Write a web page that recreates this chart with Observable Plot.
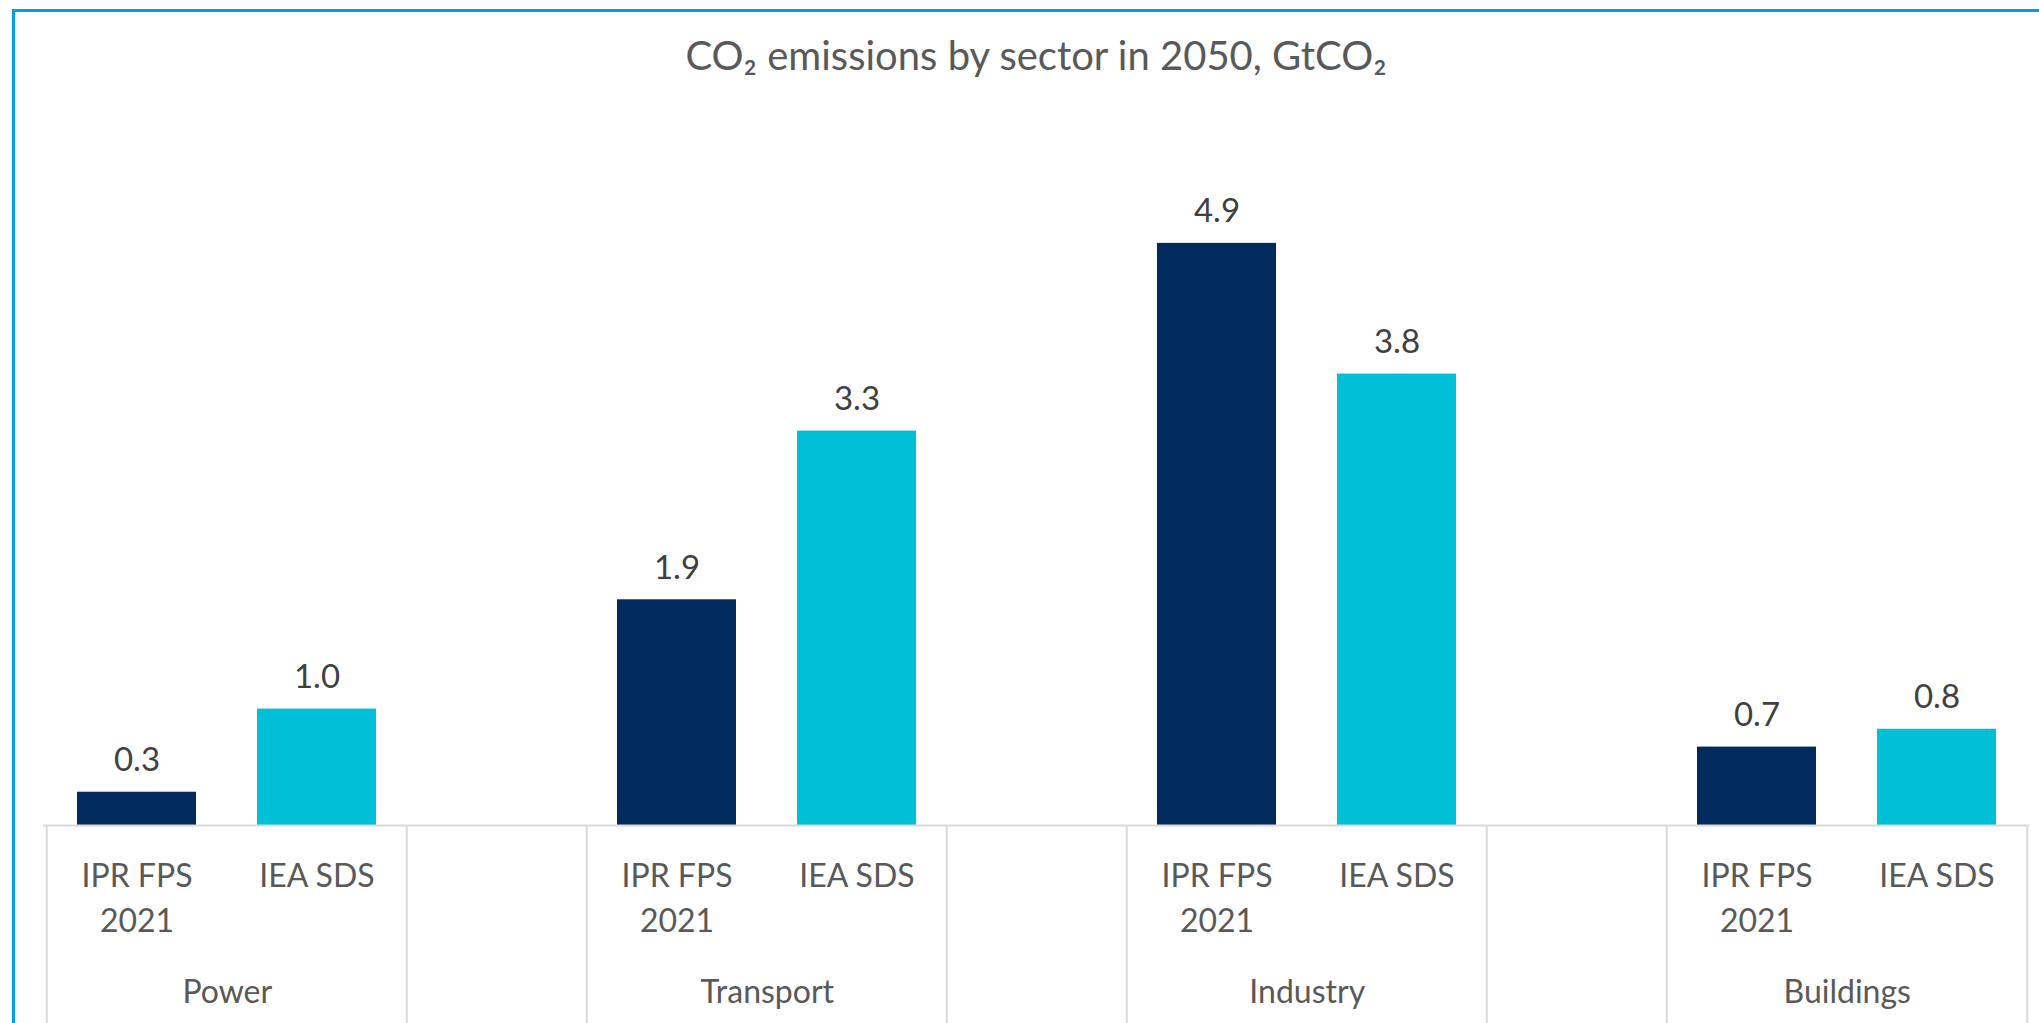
<!DOCTYPE html>
<html>
<head>
<meta charset="utf-8">
<script src="https://cdn.jsdelivr.net/npm/d3@7"></script>
<script src="https://cdn.jsdelivr.net/npm/@observablehq/plot@0.6"></script>
<style>
  html, body { margin: 0; padding: 0; background: #ffffff; }
  #wrap { position: relative; width: 2039px; height: 1023px; overflow: hidden; background: #ffffff; }
  #frame { position: absolute; left: 12px; top: 9px; width: 4000px; height: 4000px;
           border-top: 3px solid #009FE3; border-left: 3px solid #009FE3; pointer-events: none; }
  #title { position: relative; height: 100px; }
  #title div { position: absolute; top: 35px; left: 43px; width: 1986px; text-align: center;
               font-family: Lato, "Open Sans", sans-serif; font-size: 40px; line-height: 1; color: #595959; }
  #chart svg { display: block; }
</style>
</head>
<body>
<div id="wrap">
  <div id="title"><div>CO₂ emissions by sector in 2050, GtCO₂</div></div>
  <div id="chart"></div>
  <div id="frame"></div>
</div>
<script>
const sectors = ["Power", "Transport", "Industry", "Buildings"];
const scenarios = ["IPR FPS 2021", "IEA SDS"];
const scenarioTickLabels = ["IPR FPS\n2021", "IEA SDS"];
const iprValues = [0.28, 1.90, 4.90, 0.66];
const ieaValues = [0.98, 3.32, 3.80, 0.81];
const scenarioColors = ["#002B5C", "#00BFD6"];

// category slots: two bars per sector, one empty slot between sectors
const slots = [];
sectors.forEach((s, i) => {
  if (i > 0) slots.push("gap" + i);
  scenarios.forEach(sc => slots.push(s + "|" + sc));
});
const seriesValues = [iprValues, ieaValues];
const rows = [];
sectors.forEach((s, i) => {
  scenarios.forEach((sc, j) => {
    rows.push({sector: s, scenario: sc, slot: s + "|" + sc, tick: scenarioTickLabels[j], value: seriesValues[j][i]});
  });
});
const leftEdges = slots.filter(k => k.startsWith("gap") || k.endsWith("|" + scenarios[0]));
const lastSlot = [slots[slots.length - 1]];

const W = 2039, H = 923, mL = 43, mR = 10, mT = 131, mB = 198;
const step = (W - mL - mR) / slots.length;
const grid = "#D9D9D9";

const chart = Plot.plot({
  width: W,
  height: H,
  marginLeft: mL,
  marginRight: mR,
  marginTop: mT,
  marginBottom: mB,
  style: {fontFamily: "Lato, 'Open Sans', sans-serif", background: "transparent"},
  x: {type: "band", domain: slots, paddingInner: 0.34, paddingOuter: 0.17, axis: null},
  y: {domain: [0, 5], axis: null},
  color: {domain: scenarios, range: scenarioColors},
  marks: [
    Plot.barY(rows, {x: "slot", y: "value", fill: "scenario"}),
    Plot.ruleY([0], {stroke: grid, strokeWidth: 2}),
    Plot.ruleX(leftEdges, {x: d => d, y1: 0, dx: -step / 2, insetBottom: -mB, stroke: grid, strokeWidth: 2}),
    Plot.ruleX(lastSlot, {x: d => d, y1: 0, dx: step / 2, insetBottom: -mB, stroke: grid, strokeWidth: 2}),
    Plot.text(rows, {x: "slot", y: "value", text: d => d.value.toFixed(1), dy: -21, lineAnchor: "bottom",
                     fontSize: 33, fill: "#404040"}),
    Plot.text(rows, {x: "slot", y: () => 0, text: "tick", dy: 30, lineAnchor: "top", lineHeight: 1.406,
                     fontSize: 32, fill: "#595959"}),
    Plot.text(sectors, {x: s => s + "|" + scenarios[0], y: () => 0, text: d => d, dx: step / 2, dy: 155,
                        lineAnchor: "top", fontSize: 32, fill: "#595959"})
  ]
});
document.getElementById("chart").appendChild(chart);
</script>
</body>
</html>
